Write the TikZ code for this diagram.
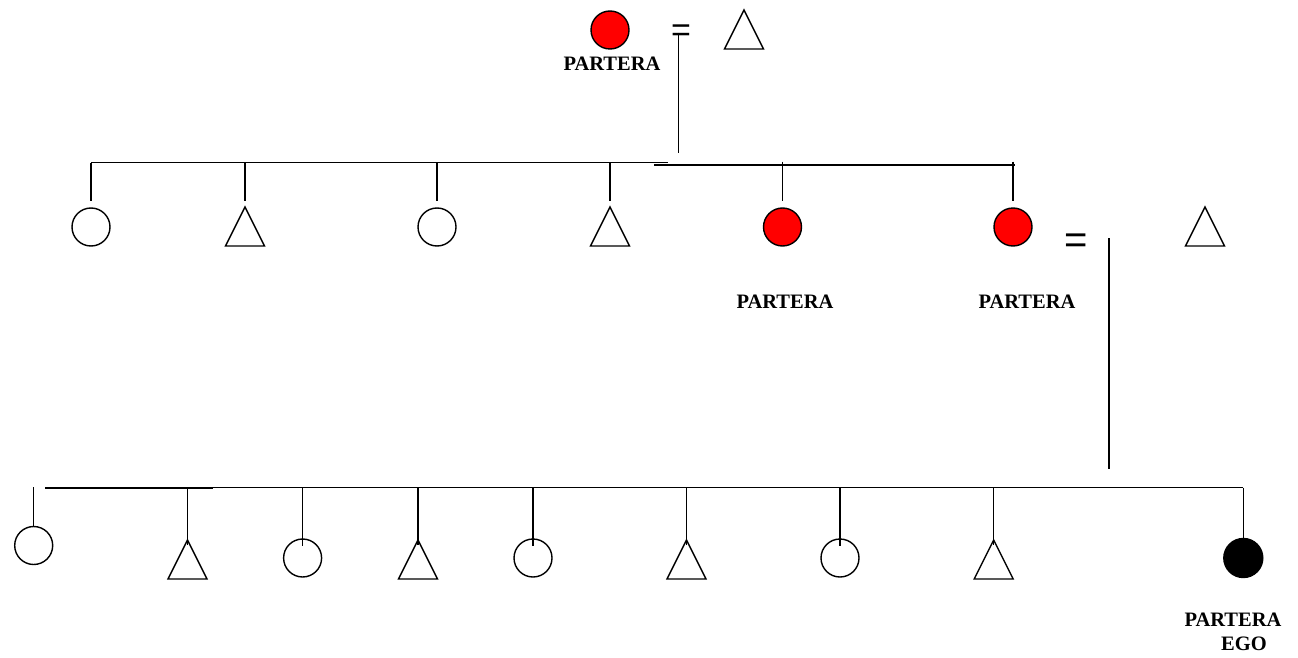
\documentclass[tikz,border=0pt]{standalone}
\usepackage{fontspec}
\setmainfont{Liberation Serif}
\newfontfamily\eqfont{Liberation Sans}
\definecolor{partred}{RGB}{255,0,0}
\begin{document}
\begin{tikzpicture}[x=1pt,y=-1pt,line width=1.4pt,
  fem/.style={circle,draw,minimum size=38pt,inner sep=0pt},
  redfem/.style={fem,fill=partred},
  egofem/.style={fem,fill=black,minimum size=39pt},
  lab/.style={font=\fontsize{20.5}{24}\selectfont\bfseries,inner sep=0pt},
  eqsmall/.style={font=\eqfont\fontsize{34}{34}\selectfont,inner sep=0pt,anchor=base},
  eqbig/.style={font=\eqfont\fontsize{40}{40}\selectfont,inner sep=0pt,anchor=base}]
\useasboundingbox (0,0) rectangle (1298,658);
\newcommand{\tri}[3]{% name, x, apex y
  \coordinate (#1) at (#2,#3);
  \draw (#1) -- ++(19.5,39) -- ++(-39,0) -- cycle;}

% ---------- generation 1
\node[redfem] (g1w) at (610,30) {};
\node[lab] (g1lab) at (612,64) {PARTERA};
\node[eqsmall] (eq1) at (681,41.2) {=};
\tri{g1h}{744}{10}
\coordinate (m1t) at (678.5,33);
\coordinate (m1b) at (678.5,153);
\draw (m1t) -- (m1b);

% ---------- generation 2 sibling lines
\coordinate (s1a) at (91,162.5);
\coordinate (s1b) at (668,162.5);
\coordinate (s2a) at (654,165);
\coordinate (s2b) at (1015,165);
\draw (s1a) -- (s1b);
\draw (s2a) -- (s2b);

\node[fem] (c1) at (91,227) {};
\tri{c2}{245}{207}
\node[fem] (c3) at (437,227) {};
\tri{c4}{610}{207}
\node[redfem] (c5) at (782.5,227) {};
\node[redfem] (c6) at (1013,227) {};
\node[lab] (c5lab) at (785,302) {PARTERA};
\node[lab] (c6lab) at (1027,302) {PARTERA};

\foreach \n/\x in {c1/91,c2/245,c3/437,c4/610}{
  \coordinate (t\n) at (\x,162.5);
  \coordinate (u\n) at (\x,201);
  \draw (t\n) -- (u\n);}
\foreach \n/\x in {c5/782.5,c6/1013}{
  \coordinate (t\n) at (\x,161.5);
  \coordinate (u\n) at (\x,201);
  \draw (t\n) -- (u\n);}

% marriage of c6
\node[eqbig] (eq2) at (1076,253.3) {=};
\tri{c6h}{1205}{207}
\coordinate (m2t) at (1109,238);
\coordinate (m2b) at (1109,469);
\draw (m2t) -- (m2b);

% ---------- generation 3
\coordinate (s3a) at (45,487.7);
\coordinate (s3b) at (1243.3,487.7);
\coordinate (s3c) at (213,488.2);
\draw (s3a) -- (s3b);
\draw (s3a |- s3c) -- (s3c);

\node[fem] (d1) at (33.7,545.5) {};
\coordinate (td1) at (33.7,487.3);
\draw (td1) -- (d1.north);

\foreach \n/\x in {d2/187.5,d4/418,d6/686.5,d8/993.7}{
  \tri{\n}{\x}{540}
  \coordinate (t\n) at (\x,487.7);
  \coordinate (u\n) at (\x,545);
  \draw (t\n) -- (u\n);}
\foreach \n/\x in {d3/302.6,d5/533,d7/840}{
  \node[fem] (\n) at (\x,558) {};
  \coordinate (t\n) at (\x,487.7);
  \coordinate (u\n) at (\x,546);
  \draw (t\n) -- (u\n);}

\node[egofem] (ego) at (1243.3,558) {};
\draw (s3b) -- (ego.north);
\node[lab] (egolab1) at (1233,619.5) {PARTERA};
\node[lab] (egolab2) at (1244,644) {EGO};
\end{tikzpicture}
\end{document}
